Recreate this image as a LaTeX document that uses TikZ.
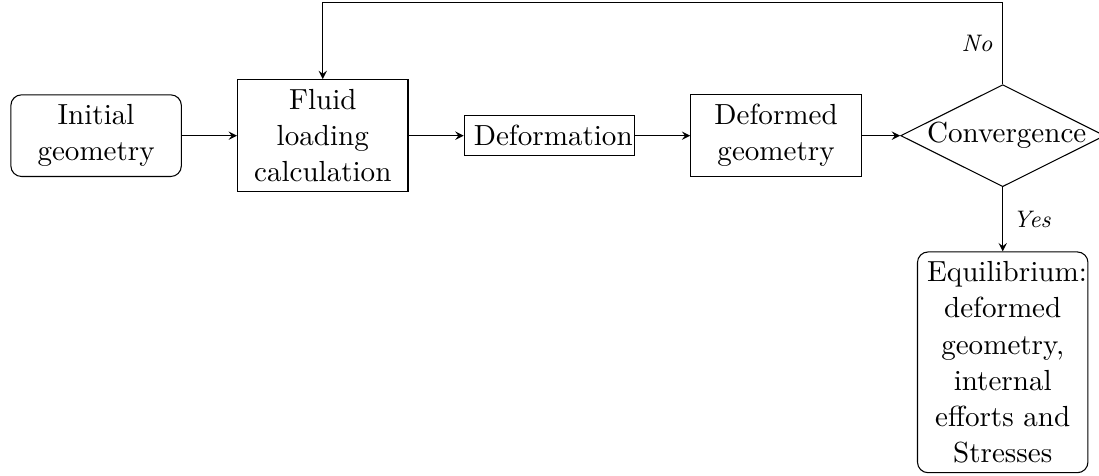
\documentclass[11pt,tikz,border=0pt]{standalone}
\usetikzlibrary{shapes.geometric}
\begin{document}
\begin{tikzpicture}[
	block/.style={draw, rectangle, text width=2cm, align=center},
	roundblock/.style={block, rounded corners},
	decision/.style={draw, diamond, aspect=2, inner sep=0pt, text width=2cm, align=center},
	answer/.style={font=\footnotesize\itshape}
]
\useasboundingbox (-36.2pt,-127.8pt) rectangle (377.7pt,51.1pt);

\node[roundblock] (init) at (0,0) {Initial geometry};
\node[block] (fluid) at (3,0) {Fluid loading calculation};
\node[block] (deform) at (6,0) {Deformation};
\node[block] (deformed) at (9,0) {Deformed geometry};
\node[decision] (conv) at (12,0) {Convergence};
\node[roundblock] (equil) at (12,-3) {Equilibrium: deformed geometry, internal efforts and Stresses};

\foreach \a/\b in {init/fluid, fluid/deform, deform/deformed, deformed/conv} {
	\draw[-stealth] (\a) -- (\b);
}

\draw[-stealth] (conv.north) -- ++(0,1.08) node[answer, left, midway] {No} -| (fluid.north);
\draw[-stealth] (conv) -- node[answer, right] {Yes} (equil);
\end{tikzpicture}
\end{document}
